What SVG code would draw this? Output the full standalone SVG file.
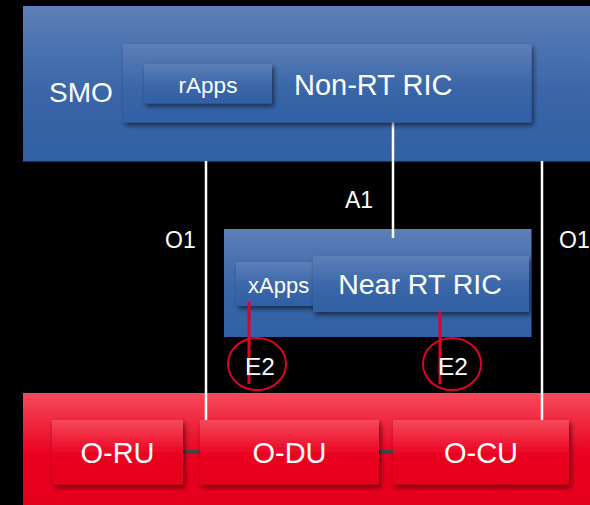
<svg xmlns="http://www.w3.org/2000/svg" width="590" height="505" viewBox="0 0 590 505">
<defs>
<linearGradient id="gBlue" x1="0" y1="0" x2="0" y2="1">
<stop offset="0" stop-color="#5d7fb8"/>
<stop offset="0.55" stop-color="#3a66a8"/>
<stop offset="1" stop-color="#3160a4"/>
</linearGradient>
<linearGradient id="gRed" x1="0" y1="0" x2="0" y2="1">
<stop offset="0" stop-color="#f54a5b"/>
<stop offset="0.55" stop-color="#ea0020"/>
<stop offset="1" stop-color="#e4001c"/>
</linearGradient>
<filter id="sh" x="-10%" y="-20%" width="125%" height="150%">
<feGaussianBlur in="SourceAlpha" stdDeviation="2.5"/>
<feOffset dx="2" dy="3" result="b"/>
<feComponentTransfer><feFuncA type="linear" slope="0.55"/></feComponentTransfer>
<feMerge><feMergeNode/><feMergeNode in="SourceGraphic"/></feMerge>
</filter>
</defs>
<style>
text{font-family:"Liberation Sans",Arial,sans-serif;fill:#ffffff}
.blue{fill:url(#gBlue)}
.red{fill:url(#gRed)}
.wl{stroke:#ffffff;stroke-width:2.5;fill:none}
.rl{stroke:#e0002a;stroke-width:3;fill:none}
.ring{stroke:#e0002a;stroke-width:2;fill:none}
.gl{stroke:#444444;stroke-width:4}
</style>
<rect width="590" height="505" fill="#000000"/>
<g id="smo">
<rect class="blue" x="23" y="6" width="567" height="155.5"/>
<text x="49" y="102" font-size="28">SMO</text>
</g>
<g id="ran">
<rect class="red" x="23" y="393" width="567" height="112"/>
</g>
<g id="connectors">
<line class="wl" x1="206" y1="161" x2="206" y2="421"/>
<line class="wl" x1="542" y1="161" x2="542" y2="421"/>
<line class="wl" x1="393" y1="122" x2="393" y2="238"/>
<line class="gl" x1="183" y1="452" x2="200" y2="452"/>
<line class="gl" x1="379" y1="452" x2="393" y2="452"/>
</g>
<g id="non-rt-ric">
<rect class="blue" x="123" y="44" width="408.5" height="78.5" filter="url(#sh)"/>
<text x="294" y="95" font-size="29">Non-RT RIC</text>
</g>
<g id="rapps">
<rect class="blue" x="144" y="64" width="128" height="39.5" filter="url(#sh)"/>
<text x="208" y="93" font-size="22.5" text-anchor="middle">rApps</text>
</g>
<g id="labels">
<text x="345" y="208" font-size="23">A1</text>
<text x="165" y="248" font-size="23">O1</text>
<text x="559" y="248" font-size="23">O1</text>
</g>
<g id="near-rt-outer">
<rect class="blue" x="224" y="229" width="307.5" height="108"/>
</g>
<line class="wl" x1="393" y1="229" x2="393" y2="238"/>
<g id="xapps">
<rect class="blue" x="236" y="262" width="90" height="44" filter="url(#sh)"/>
<text x="248" y="293" font-size="22">xApps</text>
</g>
<g id="near-rt-ric">
<rect class="blue" x="313" y="256" width="216" height="56" filter="url(#sh)"/>
<text x="420" y="294" font-size="28.5" text-anchor="middle">Near RT RIC</text>
</g>
<g id="e2-left">
<line class="rl" x1="249" y1="302" x2="249" y2="384"/>
<ellipse class="ring" cx="257" cy="364" rx="29" ry="26"/>
<text x="260" y="375" font-size="24.5" text-anchor="middle">E2</text>
</g>
<g id="e2-right">
<line class="rl" x1="440" y1="312" x2="440" y2="384"/>
<ellipse class="ring" cx="452" cy="364" rx="29" ry="26"/>
<text x="453" y="375" font-size="24.5" text-anchor="middle">E2</text>
</g>
<g id="o-ru">
<rect class="red" x="52" y="420" width="131" height="64.5" filter="url(#sh)"/>
<text x="117.5" y="463" font-size="29" text-anchor="middle">O-RU</text>
</g>
<g id="o-du">
<rect class="red" x="200" y="420" width="179" height="64.5" filter="url(#sh)"/>
<text x="289.5" y="463" font-size="29" text-anchor="middle">O-DU</text>
</g>
<g id="o-cu">
<rect class="red" x="393" y="420" width="176" height="64.5" filter="url(#sh)"/>
<text x="481" y="463" font-size="29" text-anchor="middle">O-CU</text>
</g>
</svg>
